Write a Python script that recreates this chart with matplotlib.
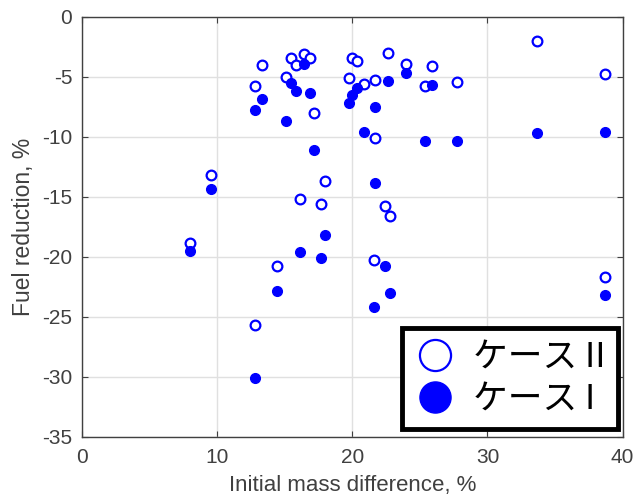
import matplotlib
matplotlib.use("Agg")
from matplotlib import pyplot as plt

# initial mass difference, % (same x for both cases)
mass_diff = [7.99, 9.55, 12.79, 12.77, 13.29, 14.39, 15.10, 15.47, 15.84, 16.14,
             16.41, 16.88, 17.14, 17.69, 17.99, 19.73, 20.01, 20.32, 20.84, 21.58,
             21.69, 21.69, 22.42, 22.62, 22.80, 23.98, 25.39, 25.87, 27.71, 33.70,
             38.73, 38.73]

# ケース II (open)
case2 = [-18.9, -13.2, -5.75, -25.7, -4.0, -20.8, -5.0, -3.45, -4.05, -15.2,
         -3.1, -3.45, -8.0, -15.65, -13.7, -5.1, -3.45, -3.7, -5.6, -20.3,
         -10.1, -5.25, -15.8, -3.05, -16.6, -3.9, -5.75, -4.1, -5.45, -2.0,
         -4.75, -21.7]

# ケース I (filled)
case1 = [-19.5, -14.4, -7.8, -30.1, -6.9, -22.9, -8.7, -5.55, -6.2, -19.6,
         -3.9, -6.4, -11.1, -20.1, -18.2, -7.2, -6.5, -5.95, -9.6, -24.2,
         -13.85, -7.5, -20.8, -5.35, -23.0, -4.7, -10.4, -5.65, -10.4, -9.7,
         -9.6, -23.2]

plt.rcParams['font.family'] = ['Liberation Sans', 'DejaVu Sans']
plt.rcParams['axes.unicode_minus'] = False

fig = plt.figure(figsize=(6.36, 4.99), dpi=100)
ax = fig.add_axes([0.129, 0.125, 0.850, 0.8415])

ax.plot(mass_diff, case2, linestyle="none", marker="o", markersize=7,
        markerfacecolor="white", markeredgecolor="blue", markeredgewidth=1.6,
        label="ケース II")
ax.plot(mass_diff, case1, linestyle="none", marker="o", markersize=7,
        markerfacecolor="blue", markeredgecolor="blue", label="ケース I")

ax.set_xlim(0, 40)
ax.set_ylim(-35, 0)
ax.set_xticks([0, 10, 20, 30, 40])
ax.set_yticks(range(-35, 1, 5))
ax.grid(True, color="#e0e0e0", linewidth=1)
ax.set_axisbelow(True)
ax.tick_params(direction="in", length=4, colors="#404040", labelsize=15,
               top=True, right=True)
ax.tick_params(axis="x", pad=8)
ax.tick_params(axis="y", pad=7)
for s in ax.spines.values():
    s.set_color("#404040")
    s.set_linewidth(1)

ax.set_xlabel("Initial mass difference, %", fontsize=16, color="#404040", labelpad=6)
ax.set_ylabel("Fuel reduction, %", fontsize=16.5, color="#404040", labelpad=5)

leg = ax.legend(loc="lower right", bbox_to_anchor=(0.9915, 0.018), borderaxespad=0,
                markerscale=3.2, handlelength=1.2, handletextpad=0.5,
                fancybox=False, framealpha=1, edgecolor="black",
                prop={"family": ["Noto Sans CJK JP", "DejaVu Sans"], "size": 25},
                labelspacing=0.2, borderpad=0.35)
leg.get_frame().set_linewidth(3.5)

fig.savefig("out.png", dpi=100)
